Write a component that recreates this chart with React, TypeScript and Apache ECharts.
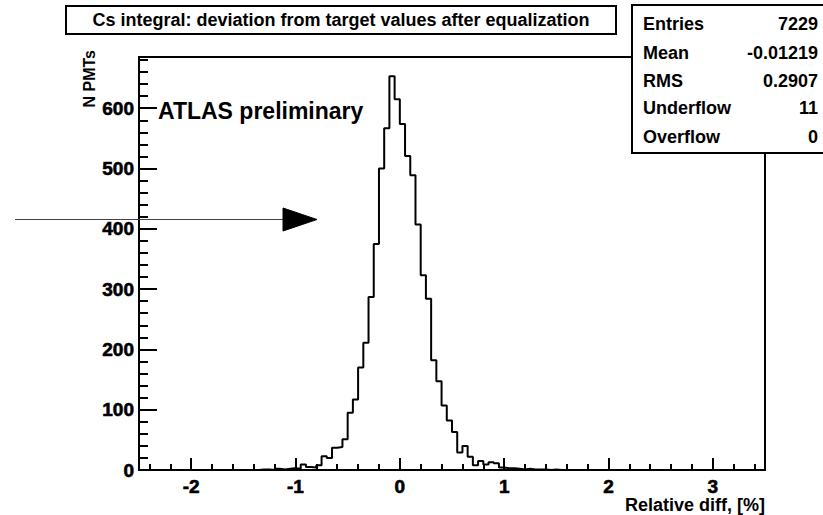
import React, { useEffect, useRef } from "react";
import * as echarts from "echarts";

// Histogram binning: 120 bins of width 0.05 from -2.5 to 3.5
const BIN_LOW = -2.5;
const BIN_WIDTH = 0.05;
const X_MIN = -2.5;
const X_MAX = 3.5;
const Y_MIN = 0;
const Y_MAX = 685;
const Y_STEP = 100;

// Bin contents (N PMTs per bin), starting at -2.5
const counts: number[] = [
  // -2.50 .. -2.05
  0, 0, 0, 0, 0, 0, 0, 0, 0, 0,
  // -2.00 .. -1.55
  0, 0, 0, 0, 0, 0, 0, 0, 0, 0,
  // -1.50 .. -1.05
  0, 0, 0, 1, 1, 0, 2, 1, 2, 3,
  // -1.00 .. -0.55
  2, 9, 5, 4, 8, 23, 20, 37, 38, 51,
  // -0.50 .. -0.05
  95, 117, 170, 211, 287, 375, 500, 567, 653, 615,
  // 0.00 .. 0.45
  574, 521, 489, 407, 323, 284, 182, 147, 107, 82,
  // 0.50 .. 0.95
  63, 29, 40, 22, 8, 15, 9, 13, 11, 4,
  // 1.00 .. 1.45
  3, 3, 2, 1, 2, 1, 1, 1, 0, 1,
  // 1.50 .. 1.95
  0, 0, 0, 0, 0, 0, 0, 0, 0, 0,
  // 2.00 .. 2.45
  0, 0, 0, 0, 0, 0, 0, 0, 0, 0,
  // 2.50 .. 2.95
  0, 0, 0, 0, 0, 0, 0, 0, 0, 0,
  // 3.00 .. 3.45
  0, 0, 0, 0, 0, 0, 0, 0, 0, 0,
];

// Axis ticks and labels
const xTickLabels = ["-2", "-1", "0", "1", "2", "3"];
const xMajorTicks = [-2, -1, 0, 1, 2, 3];
const xMinorTicks = [
  -2.4, -2.2, -1.8, -1.6, -1.4, -1.2, -0.8, -0.6, -0.4, -0.2,
  0.2, 0.4, 0.6, 0.8, 1.2, 1.4, 1.6, 1.8, 2.2, 2.4, 2.6, 2.8, 3.2, 3.4,
];
const yMinorTicks = [
  20, 40, 60, 80, 120, 140, 160, 180, 220, 240, 260, 280, 320, 340, 360, 380,
  420, 440, 460, 480, 520, 540, 560, 580, 620, 640, 660, 680,
];

// Texts
const titleText = "Cs integral: deviation from target values after equalization";
const xTitle = "Relative diff, [%]";
const yTitle = "N PMTs";
const atlasText = "ATLAS preliminary";
const statNames = ["Entries", "Mean", "RMS", "Underflow", "Overflow"];
const statValues = ["7229", "-0.01219", "0.2907", "11", "0"];

const FONT = "Liberation Sans, Arial, Helvetica, sans-serif";

export default function App() {
  const ref = useRef<HTMLDivElement | null>(null);

  useEffect(() => {
    if (!ref.current) return;
    const chart = echarts.init(ref.current, undefined, { renderer: "svg" });

    const histPoints: number[][] = counts.map((c, i) => [BIN_LOW + i * BIN_WIDTH, c]);
    histPoints.push([BIN_LOW + counts.length * BIN_WIDTH, counts[counts.length - 1]]);

    const labelFont = {
      color: "#000",
      fontFamily: FONT,
      fontWeight: "bold",
      fontSize: 19,
      textBorderColor: "#000",
      textBorderWidth: 0.6,
    };
    const tickLabel = { show: true, ...labelFont };

    // x labels only at whole units (the label axis steps by 0.5 from -2.5)
    const xLabelFormatter = (v: number) => {
      const k = xMajorTicks.findIndex((t) => Math.abs(t - v) < 1e-6);
      return k >= 0 ? `{b|${xTickLabels[k]}}` : "";
    };

    const statRowsY = [24, 53, 81, 108, 137];

    const tickAxisBase = {
      type: "value",
      axisLine: { show: false, onZero: false },
      axisLabel: { show: false },
      splitLine: { show: false },
    };

    const option: any = {
      animation: false,
      backgroundColor: "#fff",
      textStyle: { fontFamily: FONT, fontWeight: "bold", fontSize: 18, color: "#000" },
      grid: {
        left: 139,
        top: 57,
        width: 626,
        height: 413,
        show: true,
        borderColor: "#000",
        borderWidth: 2,
        backgroundColor: "transparent",
      },
      xAxis: [
        {
          type: "value",
          min: X_MIN,
          max: X_MAX,
          interval: 0.5,
          position: "bottom",
          axisLine: { show: true, onZero: false, lineStyle: { color: "#000", width: 2 } },
          axisTick: { show: false },
          axisLabel: {
            ...tickLabel,
            margin: 7,
            showMinLabel: true,
            showMaxLabel: true,
            formatter: xLabelFormatter,
            rich: { b: { ...labelFont } },
          },
          splitLine: { show: false },
        },
        {
          ...tickAxisBase,
          min: X_MIN,
          max: X_MAX,
          position: "bottom",
          axisTick: {
            show: true,
            inside: true,
            length: 12,
            customValues: xMajorTicks,
            lineStyle: { color: "#000", width: 2 },
          },
        },
        {
          ...tickAxisBase,
          min: X_MIN,
          max: X_MAX,
          position: "bottom",
          axisTick: {
            show: true,
            inside: true,
            length: 6,
            customValues: xMinorTicks,
            lineStyle: { color: "#000", width: 2 },
          },
        },
      ],
      yAxis: [
        {
          type: "value",
          min: Y_MIN,
          max: Y_MAX,
          interval: Y_STEP,
          position: "left",
          axisLine: { show: true, onZero: false, lineStyle: { color: "#000", width: 2 } },
          axisTick: {
            show: true,
            inside: true,
            length: 18,
            lineStyle: { color: "#000", width: 2 },
          },
          axisLabel: { ...tickLabel, margin: 5, showMaxLabel: false },
          splitLine: { show: false },
        },
        {
          ...tickAxisBase,
          min: Y_MIN,
          max: Y_MAX,
          position: "left",
          axisTick: {
            show: true,
            inside: true,
            length: 9,
            customValues: yMinorTicks,
            lineStyle: { color: "#000", width: 2 },
          },
        },
      ],
      series: [
        {
          type: "line",
          xAxisIndex: 0,
          yAxisIndex: 0,
          step: "end",
          data: histPoints,
          showSymbol: false,
          symbol: "none",
          clip: true,
          lineStyle: { color: "#000", width: 2 },
          z: 3,
        },
      ],
      graphic: [
        // title box
        {
          type: "rect",
          z: 10,
          shape: { x: 66, y: 6, width: 550, height: 28 },
          style: { fill: "#fff", stroke: "#000", lineWidth: 2 },
        },
        {
          type: "text",
          z: 11,
          x: 341,
          y: 20,
          style: {
            text: titleText,
            fill: "#000",
            font: `bold 18px ${FONT}`,
            align: "center",
            verticalAlign: "middle",
          },
        },
        // statistics box
        {
          type: "rect",
          z: 10,
          shape: { x: 632, y: 5, width: 200, height: 148 },
          style: { fill: "#fff", stroke: "#000", lineWidth: 2 },
        },
        ...statNames.map((n, i) => ({
          type: "text",
          z: 11,
          x: 643,
          y: statRowsY[i],
          style: {
            text: n,
            fill: "#000",
            font: `bold 18px ${FONT}`,
            align: "left",
            verticalAlign: "middle",
          },
        })),
        ...statValues.map((v, i) => ({
          type: "text",
          z: 11,
          x: 818,
          y: statRowsY[i],
          style: {
            text: v,
            fill: "#000",
            font: `bold 18px ${FONT}`,
            align: "right",
            verticalAlign: "middle",
          },
        })),
        // axis titles
        {
          type: "text",
          z: 11,
          x: 765,
          y: 505,
          style: {
            text: xTitle,
            fill: "#000",
            font: `bold 18px ${FONT}`,
            align: "right",
            verticalAlign: "middle",
          },
        },
        {
          type: "text",
          z: 11,
          x: 89,
          y: 50,
          rotation: Math.PI / 2,
          style: {
            text: yTitle,
            fill: "#000",
            font: `bold 16px ${FONT}`,
            align: "right",
            verticalAlign: "middle",
          },
        },
        // label inside the frame
        {
          type: "text",
          z: 11,
          x: 158,
          y: 111,
          style: {
            text: atlasText,
            fill: "#000",
            font: `bold 23px ${FONT}`,
            align: "left",
            verticalAlign: "middle",
          },
        },
        // arrow
        {
          type: "line",
          z: 12,
          shape: { x1: 15, y1: 219.5, x2: 285, y2: 219.5 },
          style: { stroke: "#444", lineWidth: 1 },
        },
        {
          type: "polygon",
          z: 12,
          shape: { points: [[283, 208], [317, 219.5], [283, 231]] },
          style: { fill: "#000", stroke: "#000", lineWidth: 1 },
        },
      ],
    };

    chart.setOption(option);
    return () => {
      chart.dispose();
    };
  }, []);

  return (
    <div
      ref={ref}
      style={{ position: "fixed", left: 0, top: 0, width: 823, height: 515, background: "#fff" }}
    />
  );
}
